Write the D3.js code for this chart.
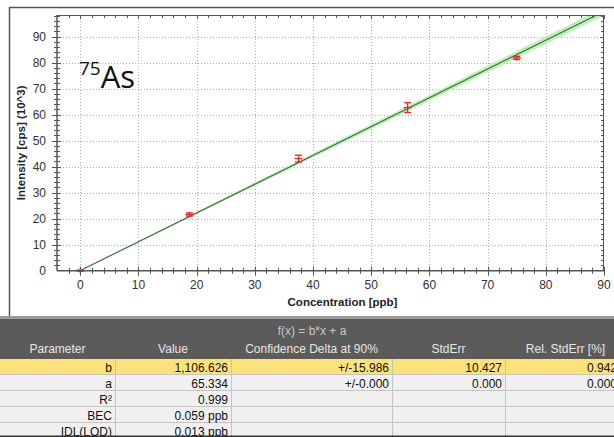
<!DOCTYPE html>
<html>
<head>
<meta charset="utf-8">
<script src="https://cdn.jsdelivr.net/npm/d3@7"></script>
<style>
  html, body { margin: 0; padding: 0; background: #fff; }
  svg { display: block; font-family: "Liberation Sans", Arial, sans-serif; }
</style>
</head>
<body>
<svg id="chart" width="614" height="437"></svg>
<script>
// Calibration standards: concentration (ppb) and measured intensity (10^3 cps)
const concentrations = [0, 18.75, 37.5, 56.25, 75];
const intensities = [0, 21.6, 43.1, 62.7, 81.8];
const intensityErr = [0.2, 0.6, 1.3, 1.9, 0.6];

// Fit f(x) = b*x + a (intensities in cps; plotted in 10^3 cps)
const slopeB = 1106.626;
const interceptA = 65.334;
const slopeDelta90 = 15.986;

const xTicks = [0, 10, 20, 30, 40, 50, 60, 70, 80, 90];
const yTicks = [0, 10, 20, 30, 40, 50, 60, 70, 80, 90];

// Fit result table
const tableColumns = ["Parameter", "Value", "Confidence Delta at 90%", "StdErr", "Rel. StdErr [%]"];
const paramNames = ["b", "a", "R\u00b2", "BEC", "IDL(LOD)"];
const paramValues = ["1,106.626", "65.334", "0.999", "0.059 ppb", "0.013 ppb"];
const paramDelta = ["+/-15.986", "+/-0.000", "", "", ""];
const paramStdErr = ["10.427", "0.000", "", "", ""];
const paramRelErr = ["0.942", "0.000", "", "", ""];

const svg = d3.select("#chart");

const plot = { left: 57, right: 604, top: 15, bottom: 270.7 };
const x = d3.scaleLinear().domain([-4, 90]).range([plot.left, plot.right]);
const y = d3.scaleLinear().domain([0, 98.3]).range([plot.bottom, plot.top]);

// outer frame of the graph panel
svg.append("line").attr("x1", 9).attr("x2", 614).attr("y1", 7.5).attr("y2", 7.5)
  .attr("stroke", "#555").attr("stroke-width", 1.5);
svg.append("line").attr("x1", 9.5).attr("x2", 9.5).attr("y1", 7).attr("y2", 316)
  .attr("stroke", "#555").attr("stroke-width", 1.5);

svg.append("defs").append("clipPath").attr("id", "plotclip")
  .append("rect").attr("x", plot.left).attr("y", plot.top)
  .attr("width", plot.right - plot.left).attr("height", plot.bottom - plot.top);

// dotted grid
const grid = svg.append("g").attr("stroke", "#aaa").attr("stroke-width", 1).attr("stroke-dasharray", "1,2");
grid.selectAll(".gx").data(xTicks.filter(d => d > -4 && d < 90)).enter().append("line")
  .attr("x1", d => Math.round(x(d)) + 0.5).attr("x2", d => Math.round(x(d)) + 0.5)
  .attr("y1", plot.top).attr("y2", plot.bottom);
grid.selectAll(".gy").data(yTicks.filter(d => d > 0)).enter().append("line")
  .attr("y1", d => Math.round(y(d)) + 0.5).attr("y2", d => Math.round(y(d)) + 0.5)
  .attr("x1", plot.left).attr("x2", plot.right);

// confidence band (slope delta at 90%) and regression line
const fit = v => (slopeB * v + interceptA) / 1000;
const bandHalf = v => 0.12 + slopeDelta90 * v / 1000;
const bandX = d3.range(0, 90.01, 0.5);
const g = svg.append("g").attr("clip-path", "url(#plotclip)");
g.append("path").datum(bandX)
  .attr("fill", "#b4f0ae").attr("fill-opacity", 0.9)
  .attr("d", d3.area().x(d => x(d)).y0(d => y(fit(d) - bandHalf(d))).y1(d => y(fit(d) + bandHalf(d))));
g.append("path").datum([0, 90])
  .attr("fill", "none").attr("stroke", "#3f6a3f").attr("stroke-width", 1.1)
  .attr("d", d3.line().x(d => x(d)).y(d => y(fit(d))));

// measured points with error bars
const pts = svg.append("g").attr("stroke", "#e0302c").attr("stroke-width", 1.4);
concentrations.forEach((c, i) => {
  const cx = x(c), cy = y(intensities[i]);
  const top = y(intensities[i] + intensityErr[i]), bot = y(intensities[i] - intensityErr[i]);
  pts.append("line").attr("x1", cx).attr("x2", cx).attr("y1", Math.min(top, cy - 2.5)).attr("y2", Math.max(bot, cy + 2.5));
  pts.append("line").attr("x1", cx - 3.5).attr("x2", cx + 3.5).attr("y1", top).attr("y2", top);
  pts.append("line").attr("x1", cx - 3.5).attr("x2", cx + 3.5).attr("y1", bot).attr("y2", bot);
  pts.append("line").attr("x1", cx - 4).attr("x2", cx + 4).attr("y1", cy).attr("y2", cy);
});

// axes frame
const axisColor = "#555";
const frame = svg.append("g").attr("stroke", axisColor).attr("stroke-width", 1);
frame.append("line").attr("x1", plot.left).attr("x2", plot.right).attr("y1", plot.bottom).attr("y2", plot.bottom).attr("stroke-width", 1.5);
frame.append("line").attr("x1", plot.left).attr("x2", plot.left).attr("y1", plot.top).attr("y2", plot.bottom).attr("stroke-width", 1.5);
frame.append("line").attr("x1", plot.left).attr("x2", plot.right).attr("y1", plot.top + 0.5).attr("y2", plot.top + 0.5);
frame.append("line").attr("x1", plot.right - 0.5).attr("x2", plot.right - 0.5).attr("y1", plot.top).attr("y2", plot.bottom);

// ticks (major every 10, minor every 2)
const minorX = d3.range(-2, 90.1, 2);
const minorY = d3.range(2, 98.3, 2);
minorX.forEach(v => {
  const px = Math.round(x(v)) + 0.5;
  const major = v % 10 === 0;
  frame.append("line").attr("x1", px).attr("x2", px)
    .attr("y1", plot.bottom - (major ? 4 : 3)).attr("y2", plot.bottom + (major ? 5 : 3));
  frame.append("line").attr("x1", px).attr("x2", px)
    .attr("y1", plot.top).attr("y2", plot.top + (major ? 4 : 3));
});
minorY.forEach(v => {
  const py = Math.round(y(v)) + 0.5;
  const major = v % 10 === 0;
  frame.append("line").attr("y1", py).attr("y2", py)
    .attr("x1", plot.left - (major ? 5 : 3)).attr("x2", plot.left + (major ? 4 : 3));
  frame.append("line").attr("y1", py).attr("y2", py)
    .attr("x1", plot.right - (major ? 4 : 3)).attr("x2", plot.right);
});

// tick labels
svg.append("g").selectAll("text").data(xTicks).enter().append("text")
  .attr("x", d => x(d)).attr("y", 289).attr("text-anchor", "middle")
  .attr("font-size", 12).attr("fill", "#333").text(d => d);
svg.append("g").selectAll("text").data(yTicks).enter().append("text")
  .attr("x", 46).attr("y", d => y(d) + 4.5).attr("text-anchor", "end")
  .attr("font-size", 12).attr("fill", "#333").text(d => d);

// axis titles
svg.append("text").attr("x", (plot.left + plot.right) / 2 + 12).attr("y", 306)
  .attr("text-anchor", "middle").attr("font-size", 11.5).attr("font-weight", "bold").attr("fill", "#222")
  .text("Concentration [ppb]");
svg.append("text").attr("transform", `translate(25,${(plot.top + plot.bottom) / 2}) rotate(-90)`)
  .attr("text-anchor", "middle").attr("font-size", 11.5).attr("font-weight", "bold").attr("fill", "#222")
  .text("Intensity [cps] (10^3)");

// isotope label
const iso = svg.append("text").attr("x", 79).attr("y", 88).attr("fill", "#111")
  .attr("font-family", "'Open Sans', 'Liberation Sans', sans-serif");
iso.append("tspan").attr("font-size", 19).attr("dy", -13).text("75");
iso.append("tspan").attr("font-size", 31).attr("dy", 13).text("As");

// result table
const colEdges = [0, 115, 231, 392, 505, 614];
const rowTop = 359, rowH = 16;
svg.append("rect").attr("x", 0).attr("y", 316).attr("width", 614).attr("height", 3).attr("fill", "#9a9a9a");
svg.append("rect").attr("x", 0).attr("y", 319).attr("width", 614).attr("height", rowTop - 319).attr("fill", "#5b5b5b");
svg.append("text").attr("x", 312).attr("y", 335).attr("text-anchor", "middle")
  .attr("font-size", 12).attr("fill", "#c8c8c8").text("f(x) = b*x + a");
tableColumns.forEach((t, i) => {
  svg.append("text").attr("x", (colEdges[i] + colEdges[i + 1]) / 2 + (i === 4 ? 6 : 0)).attr("y", 353)
    .attr("text-anchor", "middle").attr("font-size", 12).attr("fill", "#e6e6e6").text(t);
});
const rows = paramNames.map((n, i) => [n, paramValues[i], paramDelta[i], paramStdErr[i], paramRelErr[i]]);
rows.forEach((r, ri) => {
  const yy = rowTop + ri * rowH;
  svg.append("rect").attr("x", 0).attr("y", yy).attr("width", 614).attr("height", rowH)
    .attr("fill", ri === 0 ? "#fde27c" : "#f0f0f0");
  svg.append("line").attr("x1", 0).attr("x2", 614).attr("y1", yy + rowH - 0.5).attr("y2", yy + rowH - 0.5)
    .attr("stroke", "#c4c4c4");
  colEdges.slice(1, 5).forEach(cx => {
    svg.append("line").attr("x1", cx + 0.5).attr("x2", cx + 0.5).attr("y1", yy).attr("y2", yy + rowH)
      .attr("stroke", "#c4c4c4");
  });
  r.forEach((t, ci) => {
    svg.append("text").attr("x", colEdges[ci + 1] - 3 + (ci === 4 ? 6 : 0)).attr("y", yy + 12.5)
      .attr("text-anchor", "end").attr("font-size", 12).attr("fill", "#111").text(t);
  });
});
svg.append("rect").attr("x", 0).attr("y", 435.5).attr("width", 614).attr("height", 1.5).attr("fill", "#333");
</script>
</body>
</html>
